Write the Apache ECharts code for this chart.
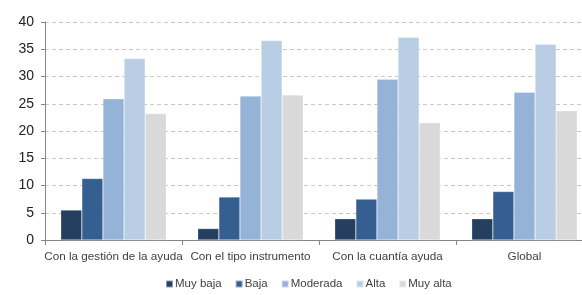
<!DOCTYPE html>
<html>
<head>
    <meta charset="utf-8">
    <title>Grado de satisfacción</title>
    <script src="https://cdnjs.cloudflare.com/ajax/libs/echarts/6.0.0/echarts.min.js"></script>
    <style>
        html, body { margin: 0; padding: 0; background: #fff; overflow: hidden; }
        /* el gráfico original está recortado por la derecha */
        #chart { width: 593px; height: 295px; }
    </style>
</head>
<body>
    <div id="chart"></div>
    <script>
        // datos
        var categories = ['Con la gestión de la ayuda', 'Con el tipo instrumento', 'Con la cuantía ayuda', 'Global'];
        var muyBaja  = [5.5, 2.1, 3.9, 3.9];
        var baja     = [11.3, 7.9, 7.5, 8.9];
        var moderada = [25.9, 26.4, 29.5, 27.1];
        var alta     = [33.3, 36.6, 37.2, 35.9];
        var muyAlta  = [23.2, 26.6, 21.5, 23.7];
        var seriesNames = ['Muy baja', 'Baja', 'Moderada', 'Alta', 'Muy alta'];
        var colors = ['#243f60', '#365f91', '#95b3d7', '#b9cde5', '#d9d9d9'];

        var font = '"Liberation Sans", Arial, sans-serif';
        var chart = echarts.init(document.getElementById('chart'));

        var seriesData = [muyBaja, baja, moderada, alta, muyAlta];
        var series = seriesData.map(function (d, i) {
            return {
                name: seriesNames[i],
                type: 'bar',
                data: d,
                barGap: '0%',
                barCategoryGap: '23%',
                itemStyle: { color: colors[i], borderColor: 'rgba(255,255,255,0.5)', borderWidth: 0.5 }
            };
        });

        chart.setOption({
            animation: false,
            color: colors,
            textStyle: { fontFamily: font },
            legend: {
                bottom: 0,
                left: 160,
                itemWidth: 7,
                itemHeight: 7,
                itemGap: 13,
                icon: 'rect',
                textStyle: { fontSize: 11.5, color: '#404040', fontFamily: font, padding: [0, 0, 0, -3] },
                data: seriesNames
            },
            grid: {
                left: 45,
                top: 22,
                right: 0,
                height: 218
            },
            xAxis: {
                type: 'category',
                data: categories,
                axisLine: { lineStyle: { color: '#868686' } },
                axisTick: { show: true, length: 5, lineStyle: { color: '#868686' } },
                axisLabel: { fontSize: 11.7, color: '#404040', margin: 11, interval: 0 }
            },
            yAxis: {
                type: 'value',
                min: 0,
                max: 40,
                interval: 5,
                axisLine: { show: true, lineStyle: { color: '#868686' } },
                axisTick: { show: true, inside: false, length: 4, lineStyle: { color: '#868686' } },
                axisLabel: { fontSize: 14, color: '#222', margin: 11 },
                splitLine: { lineStyle: { color: '#c8c8c8', type: [4, 3] } }
            },
            series: series
        });
    </script>
</body>
</html>
